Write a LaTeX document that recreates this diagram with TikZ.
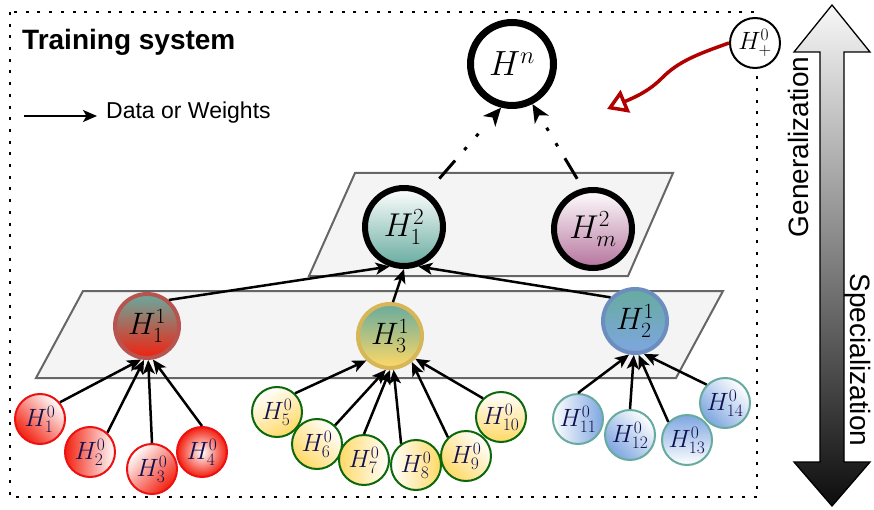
\RequirePackage{fix-cm}
\documentclass[tikz,border=0pt]{standalone}
\usepackage{fontspec}
\newfontfamily\arialf{Liberation Sans}
\usetikzlibrary{arrows.meta}
\definecolor{tealc}{HTML}{67AB9F}
\definecolor{redf}{HTML}{F2200F}
\definecolor{redc}{HTML}{EE1111}
\definecolor{yelf}{HTML}{FFD966}
\definecolor{bluef}{HTML}{7EA6E0}
\definecolor{purf}{HTML}{B5739D}
\definecolor{greend}{HTML}{0B680B}
\definecolor{navyc}{HTML}{10104F}
\definecolor{redb}{HTML}{B85450}
\definecolor{yelb}{HTML}{D6B656}
\definecolor{blueb}{HTML}{6C8EBF}
\definecolor{planef}{HTML}{F4F4F4}
\definecolor{planed}{HTML}{666666}
\definecolor{darkred}{HTML}{B20000}
\begin{document}
\begin{tikzpicture}[x=1pt,y=-1pt,
 lzero/.style={circle,minimum size=50pt,inner sep=0pt,line width=2pt,text=navyc,font=\fontsize{25}{28}\selectfont},
 rz/.style={lzero,draw=redc},
 yz/.style={lzero,draw=greend},
 bz/.style={lzero,draw=tealc},
 lone/.style={circle,minimum size=64pt,inner sep=0pt,line width=4pt,font=\fontsize{31}{34}\selectfont},
 ltwo/.style={circle,minimum size=78pt,inner sep=0pt,line width=6pt,draw=black,font=\fontsize{33}{36}\selectfont},
 conn/.style={line width=2.5pt,-{Stealth[length=14pt,width=12pt,inset=3.5pt]}},
 dotarrow/.style={line width=3pt,dash pattern=on 24pt off 14pt on 3.5pt off 14.5pt on 3.5pt off 40pt,-{Stealth[length=18pt,width=16pt,inset=5pt]}},
 plane/.style={fill=planef,draw=planed,line width=2pt},
]
\useasboundingbox (0,0) rectangle (874,510);
% frame
\draw[line width=2.6pt, dash pattern=on 3pt off 8.7pt] (10,12) rectangle (757,497);
% planes
\filldraw[plane] (355,173) -- (673,173) -- (628,276) -- (309,276) -- cycle;
\filldraw[plane] (83,291) -- (723,291) -- (676,378) -- (36,378) -- cycle;
% double arrow
\shadedraw[top color=black!3, bottom color=black!95, draw=black, line width=1.3pt]
 (832,5) -- (870,52) -- (844,52) -- (844,462) -- (870,462) -- (832,506) -- (794,462) -- (820,462) -- (820,52) -- (794,52) -- cycle;
\node[rotate=90, inner sep=0pt, font=\arialf\fontsize{28}{32}\selectfont] (gen) at (798,147) {Generalization};
\node[rotate=-90, inner sep=0pt, font=\arialf\fontsize{28}{32}\selectfont] (spec) at (858,360) {Specialization};
% titles
\node[anchor=base west, inner sep=0pt, font=\arialf\bfseries\fontsize{28}{32}\selectfont] (title) at (22,50) {Training system};
\node[anchor=base west, inner sep=0pt, font=\arialf\fontsize{23}{27}\selectfont] (legend) at (106,119) {Data or Weights};
\coordinate (la) at (24,116);
\draw[line width=2pt,-{Stealth[length=14pt,width=12pt,inset=3.5pt]}, shorten >=9pt] (la) -- (la -| legend.west);
% top nodes
\node[circle,minimum size=83pt,inner sep=0pt,line width=7pt,draw=black,fill=white,font=\fontsize{35}{38}\selectfont] (hn) at (512,64) {$H^n$};
\node[circle,minimum size=50pt,inner sep=0pt,line width=2pt,draw=black,fill=white,font=\fontsize{25}{28}\selectfont] (hp) at (755,43) {$H_+^0$};
% layer 2
\node[ltwo, top color=white, bottom color=tealc] (h12) at (404,227) {$H_1^2$};
\node[ltwo, top color=white, bottom color=purf] (hm2) at (593,229) {$H_m^2$};
% layer 1
\node[lone, draw=redb, top color=tealc, bottom color=redf] (h11) at (147,326) {$H_1^1$};
\node[lone, draw=yelb, top color=tealc, bottom color=yelf] (h31) at (390,336) {$H_3^1$};
\node[lone, draw=blueb, top color=tealc, bottom color=bluef] (h21) at (635,321) {$H_2^1$};
% layer 0 red
\node[rz, top color=white, bottom color=redf, shading angle=-45] (h10) at (40,419) {$H_1^0$};
\node[rz, left color=redf, right color=white] (h20) at (90,452) {$H_2^0$};
\node[rz, top color=white, bottom color=redf, shading angle=45] (h30) at (152,469) {$H_3^0$};
\node[rz, inner color=white, outer color=redf] (h40) at (202,452) {$H_4^0$};
% layer 0 yellow
\node[yz, top color=white, bottom color=yelf, shading angle=30] (h50) at (277,412) {$H_5^0$};
\node[yz, top color=white, bottom color=yelf, shading angle=-45] (h60) at (317,444) {$H_6^0$};
\node[yz, left color=yelf, right color=white] (h70) at (364,460) {$H_7^0$};
\node[yz, left color=white, right color=yelf] (h80) at (416,465) {$H_8^0$};
\node[yz, top color=white, bottom color=yelf, shading angle=-45] (h90) at (466,456) {$H_9^0$};
\node[yz, top color=white, bottom color=yelf] (h100) at (501,417) {$H_{10}^0$};
% layer 0 blue
\node[bz, left color=white, right color=bluef] (h110) at (578,419) {$H_{11}^0$};
\node[bz, top color=white, bottom color=bluef, shading angle=-45] (h120) at (630,435) {$H_{12}^0$};
\node[bz, top color=bluef, bottom color=white] (h130) at (687,440) {$H_{13}^0$};
\node[bz, top color=white, bottom color=bluef, shading angle=-45] (h140) at (725,403) {$H_{14}^0$};
% edges layer 0 -> 1
\draw[conn] (h10.40) -- (h11.-100);
\draw[conn] (h20.48) -- (h11.-95);
\draw[conn] (h30.north) -- (h11.-88);
\draw[conn] (h40.north) -- (h11.-80);
\draw[conn] (h50.46) -- (h31.-134);
\draw[conn] (h60.46) -- (h31.-97);
\draw[conn] (h70.north) -- (h31.-90);
\draw[conn] (h80.125) -- (h31.-84);
\draw[conn] (h90.134) -- (h31.-50);
\draw[conn] (h100.134) -- (h31.-42);
\draw[conn] (h110.north) -- (h21.-100);
\draw[conn] (h120.north) -- (h21.-92);
\draw[conn] (h130.136) -- (h21.-84);
\draw[conn] (h140.135) -- (h21.-75);
% edges layer 1 -> 2
\draw[conn] (h11.50) -- (h12.-110);
\draw[conn] (h31.85) -- (h12.-90);
\draw[conn] (h21.136) -- (h12.-70);
% layer 2 -> n
\draw[dotarrow, shorten <=18pt] (h12.56) -- (hn.-104);
\draw[dotarrow, shorten <=11pt] (hm2.104) -- (hn.-63);
% red arrow
\coordinate (rt) at (607,109);
\draw[darkred, line width=3.5pt, -{Triangle[length=20pt,width=24pt,fill=white]}]
 (hp.west) .. controls (695,55) and (678,62) .. (662,78) .. controls (650,90) and (638,96) .. (rt);
\end{tikzpicture}
\end{document}
